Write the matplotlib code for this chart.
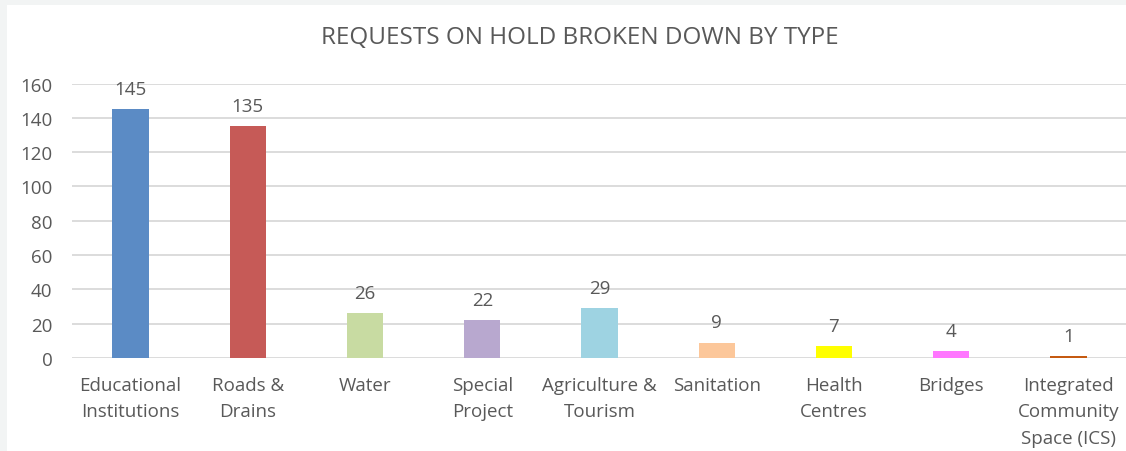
import matplotlib.pyplot as plt
from matplotlib.patches import Rectangle

categories = ["Educational\nInstitutions", "Roads &\nDrains", "Water", "Special\nProject",
              "Agriculture &\nTourism", "Sanitation", "Health\nCentres", "Bridges",
              "Integrated\nCommunity\nSpace (ICS)"]
requests = [145, 135, 26, 22, 29, 9, 7, 4, 1]
bar_colors = ["#5B8BC5", "#C65A57", "#C8DBA2", "#B8A8CF", "#9ED3E2",
              "#FCC79A", "#FFFF00", "#FF77FF", "#C55A11"]

plt.rcParams['font.family'] = ['Open Sans', 'DejaVu Sans']
text_color = "#595959"

fig = plt.figure(figsize=(11.26, 4.52), dpi=100, facecolor="#F2F4F4")
fig.add_artist(Rectangle((7 / 1126, 0), 1 - 7 / 1126, 1 - 6 / 452,
                         transform=fig.transFigure, facecolor="white",
                         edgecolor="none", zorder=-5))
ax = fig.add_axes([72 / 1126, 1 - 359 / 452, 1055 / 1126, (359 - 84.5) / 452])
ax.set_facecolor("white")

x = range(len(categories))
bars = ax.bar(x, requests, width=0.31, color=bar_colors, zorder=3)
for b, v in zip(bars, requests):
    ax.annotate(str(v), (b.get_x() + b.get_width() / 2, v), xytext=(0, 8),
                textcoords="offset points", ha="center", va="bottom",
                fontsize=13.5, color=text_color)

ax.set_xlim(-0.5, len(categories) - 0.5)
ax.set_ylim(0, 160)
ax.set_yticks(range(0, 161, 20))
ax.set_xticks(list(x))
ax.set_xticklabels(categories, linespacing=1.6)
ax.tick_params(axis="both", length=0, labelsize=13.5, labelcolor=text_color)
ax.tick_params(axis="y", pad=14)
ax.tick_params(axis="x", pad=13)
ax.grid(axis="y", color="#D9D9D9", linewidth=1.3, zorder=0)
for s in ax.spines.values():
    s.set_visible(False)

fig.text(580 / 1126, 1 - 38 / 452, "REQUESTS ON HOLD BROKEN DOWN BY TYPE",
         ha="center", va="center", fontsize=17.5, color=text_color)

fig.savefig("out.png", dpi=100, facecolor=fig.get_facecolor())
